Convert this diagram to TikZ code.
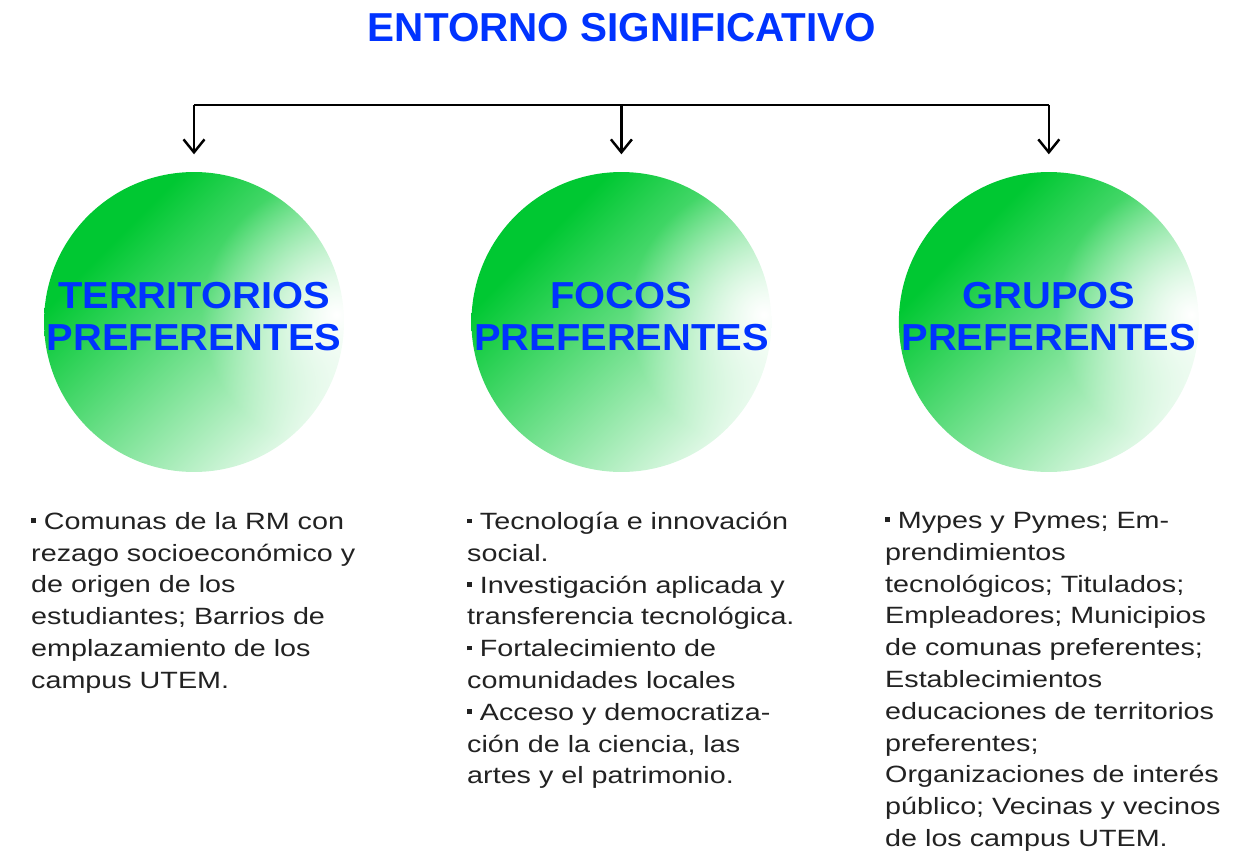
\documentclass[tikz,border=0pt]{standalone}
\usepackage{fontspec}
\setmainfont{Liberation Sans}
\newfontfamily\bodyfont[FakeStretch=1.22]{Liberation Sans}
\newfontfamily\capsfont[FakeStretch=1.06]{Liberation Sans}
\usetikzlibrary{positioning, arrows.meta}

\definecolor{utemblue}{HTML}{0033FF}
\definecolor{utemgreen}{HTML}{00C832}
\definecolor{bodytext}{HTML}{222222}

% green from the upper left, fading to a white spot on the right edge
\pgfdeclarefunctionalshading{bubbleshade}{\pgfpoint{0bp}{0bp}}{\pgfpoint{100bp}{100bp}}{}{
  50 sub 25 div exch 50 sub 25 div exch
  2 copy sub 0.7071 mul -0.5 mul 0.62 add
  dup 1 gt {pop 1} if dup 0 lt {pop 0} if
  3 1 roll
  0.05 sub dup mul exch 0.95 sub dup mul add sqrt 0.9 div
  dup 1 gt {pop 1} if
  mul
  dup 1 exch sub
  exch dup -0.216 mul 1 add
  exch -0.804 mul 1 add
}

\newcommand{\bul}{\rule[0.27em]{0.2em}{0.2em}\ }

\begin{document}
\begin{tikzpicture}[x = 0.02cm, y = -0.02cm, % one unit = one pixel
                > = {Straight Barb[length=2.6mm, width=4.2mm]}, % arrow head style
                node distance = 8.55cm, % distance between circles
                line width = 1.4pt % line style
            ]

            \tikzstyle{bubble}=[circle, minimum size = 6cm, inner sep = 0pt,
            shade, shading = bubbleshade]
            \tikzstyle{bubbletext}=[text = utemblue, align = center,
            font = \fontsize{21.4}{24.4}\capsfont\bfseries]
            \tikzstyle{itemtext}=[text = bodytext, align = left, anchor = north west,
            inner sep = 0pt, font = \fontsize{13.4}{18.1}\bodyfont]

            \useasboundingbox (0,0) rectangle (1248,856);

            \node[text = utemblue, font = \fontsize{23}{26}\selectfont\bfseries]
            (title) at (622,28) {ENTORNO SIGNIFICATIVO};

            \node[bubble] (c1) at (194,322) {}; \node[bubble] (c2) [right
            of=c1] {}; \node[bubble] (c3) [right of=c2] {};

            \node[bubbletext] (t1) at ([yshift=0.11cm]c1.center)
            {TERRITORIOS\\PREFERENTES}; \node[bubbletext] (t2) at
            ([yshift=0.11cm]c2.center) {FOCOS\\PREFERENTES};
            \node[bubbletext] (t3) at ([yshift=0.11cm]c3.center)
            {GRUPOS\\PREFERENTES};

            \coordinate (barL) at (c1 |- 0,105); \coordinate (barM) at
            (c2 |- 0,105); \coordinate (barR) at (c3 |- 0,105);

            \draw (barL) -- (barR);
            \draw[->, shorten >=0.33cm] (barL) -- (c1.north);
            \draw[->, shorten >=0.33cm] (barM) -- (c2.north);
            \draw[->, shorten >=0.33cm] (barR) -- (c3.north);

            \node[itemtext] (l1) at (30,511) {\bul Comunas de la RM con\\
            rezago socioeconómico y\\ de origen de los\\ estudiantes; Barrios
            de\\ emplazamiento de los\\ campus UTEM.};

            \node[itemtext] (l2) at (466,511) {\bul Tecnología e innovación\\
            social.\\ \bul Investigación aplicada y\\ transferencia
            tecnológica.\\ \bul Fortalecimiento de\\ comunidades locales\\
            \bul Acceso y democratiza-\\ ción de la ciencia, las\\ artes y el
            patrimonio.};

            \node[itemtext] (l3) at (884,511) {\bul Mypes y Pymes; Em-\\
            prendimientos\\ tecnológicos; Titulados;\\ Empleadores;
            Municipios\\ de comunas preferentes;\\ Establecimientos\\
            educaciones de territorios\\ preferentes;\\ Organizaciones de
            interés\\ público; Vecinas y vecinos\\ de los campus UTEM.};
        \end{tikzpicture}
\end{document}
